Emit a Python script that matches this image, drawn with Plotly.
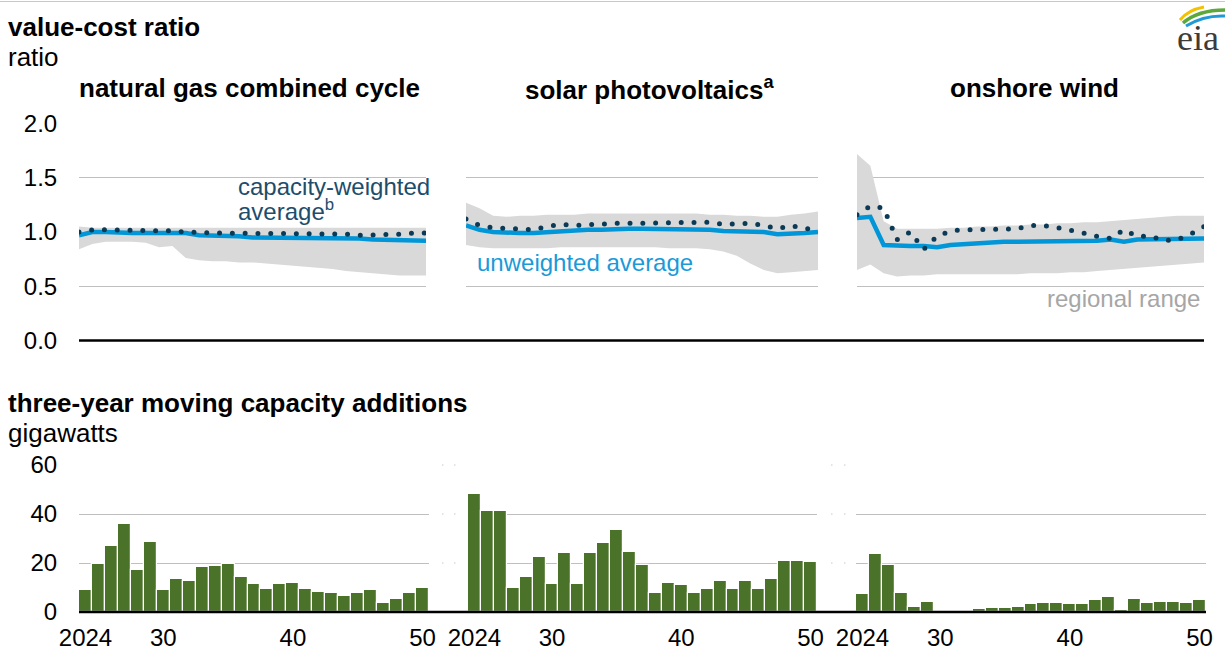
import plotly.graph_objects as go

W, H = 1225, 656

years = list(range(2024, 2051))
tick_vals = [2024, 2030, 2040, 2050]
tick_text = ["2024", "30", "40", "50"]
ratio_ticks = [0.0, 0.5, 1.0, 1.5, 2.0]
gw_ticks = [0, 20, 40, 60]

panel_titles = ["natural gas combined cycle", "solar photovoltaics<sup>a</sup>", "onshore wind"]

# ---- value-cost ratio: capacity-weighted (dotted), unweighted (solid), regional range (band)
ngcc_weighted = [1.00, 1.02, 1.02, 1.02, 1.01, 1.01, 1.01, 1.01, 1.00, 0.99, 0.99, 0.99, 0.99, 0.99,
                 0.99, 0.99, 0.99, 0.99, 0.99, 0.99, 0.98, 0.97, 0.97, 0.97, 0.98, 0.99, 0.99]
ngcc_unweighted = [0.97, 1.00, 1.00, 0.99, 0.99, 0.99, 0.99, 0.98, 0.99, 0.97, 0.97, 0.96, 0.96, 0.95,
                   0.95, 0.95, 0.95, 0.95, 0.95, 0.95, 0.95, 0.94, 0.93, 0.93, 0.93, 0.92, 0.92]
ngcc_low = [0.84, 0.89, 0.91, 0.91, 0.91, 0.90, 0.86, 0.87, 0.76, 0.74, 0.73, 0.73, 0.72, 0.72,
            0.71, 0.70, 0.69, 0.68, 0.67, 0.66, 0.64, 0.63, 0.62, 0.61, 0.60, 0.60, 0.60]
ngcc_high = [1.05, 1.04, 1.04, 1.04, 1.04, 1.04, 1.04, 1.04, 1.04, 1.04, 1.04, 1.04, 1.04, 1.04,
             1.04, 1.04, 1.04, 1.04, 1.04, 1.04, 1.04, 1.04, 1.04, 1.04, 1.04, 1.04, 1.04]

solar_weighted = [1.12, 1.06, 1.04, 1.03, 1.03, 1.02, 1.05, 1.07, 1.06, 1.07, 1.07, 1.08, 1.08, 1.08,
                  1.08, 1.09, 1.08, 1.09, 1.09, 1.07, 1.07, 1.08, 1.06, 1.03, 1.06, 1.03, 1.03]
solar_unweighted = [1.06, 1.02, 1.00, 0.99, 0.99, 0.99, 1.00, 1.01, 1.02, 1.02, 1.02, 1.03, 1.03, 1.03,
                    1.03, 1.03, 1.02, 1.02, 1.02, 1.01, 1.01, 1.00, 1.00, 0.98, 0.98, 0.99, 1.00]
solar_low = [0.88, 0.86, 0.85, 0.85, 0.85, 0.85, 0.85, 0.86, 0.86, 0.86, 0.86, 0.86, 0.86, 0.86,
             0.86, 0.85, 0.85, 0.85, 0.84, 0.82, 0.78, 0.71, 0.65, 0.62, 0.63, 0.64, 0.65]
solar_high = [1.27, 1.22, 1.15, 1.14, 1.15, 1.15, 1.16, 1.16, 1.16, 1.17, 1.17, 1.17, 1.17, 1.17,
              1.17, 1.17, 1.17, 1.17, 1.16, 1.16, 1.15, 1.15, 1.14, 1.14, 1.16, 1.17, 1.19]

wind_weighted = [1.16, 1.24, 1.22, 0.93, 1.00, 0.84, 0.96, 1.01, 1.02, 1.02, 1.02, 1.03, 1.03, 1.06,
                 1.06, 1.04, 1.02, 0.99, 0.96, 0.94, 1.02, 0.96, 0.96, 0.92, 0.93, 0.98, 1.05]
wind_unweighted = [1.13, 1.14, 0.88, 0.87, 0.87, 0.87, 0.86, 0.88, 0.89, 0.90, 0.90, 0.91, 0.91, 0.91,
                   0.91, 0.91, 0.92, 0.92, 0.92, 0.93, 0.91, 0.93, 0.93, 0.94, 0.94, 0.94, 0.94]
wind_low = [0.65, 0.70, 0.62, 0.59, 0.60, 0.60, 0.61, 0.61, 0.61, 0.61, 0.61, 0.61, 0.61, 0.62,
            0.62, 0.62, 0.63, 0.63, 0.64, 0.65, 0.66, 0.67, 0.68, 0.69, 0.70, 0.71, 0.72]
wind_high = [1.72, 1.61, 1.10, 1.03, 1.03, 1.03, 1.03, 1.04, 1.04, 1.05, 1.05, 1.06, 1.06, 1.07,
             1.07, 1.08, 1.08, 1.09, 1.09, 1.10, 1.11, 1.12, 1.13, 1.14, 1.15, 1.15, 1.15]

# ---- three-year moving capacity additions (GW)
ngcc_adds = [8.8, 19.7, 27.1, 36.1, 17.3, 28.7, 8.8, 13.6, 12.5, 18.2, 18.8, 19.7, 14.1, 11.4,
             9.4, 11.4, 12.0, 9.4, 8.3, 7.8, 6.7, 7.8, 8.8, 3.5, 5.2, 7.8, 9.9]
solar_adds = [48.0, 41.2, 41.2, 9.9, 14.1, 22.4, 11.4, 23.9, 11.4, 23.9, 28.2, 33.3, 24.5, 19.3,
              7.8, 12.0, 10.9, 7.8, 9.4, 12.5, 9.4, 12.5, 9.4, 13.6, 20.8, 20.8, 20.3]
wind_adds = [7.2, 23.5, 19.3, 7.8, 2.0, 4.1, 0.0, 0.0, 0.0, 1.1, 1.6, 1.6, 2.2, 3.1,
             3.7, 3.7, 3.1, 3.1, 4.8, 6.3, 1.0, 5.2, 3.7, 4.2, 4.2, 3.7, 4.8]

weighted = [ngcc_weighted, solar_weighted, wind_weighted]
unweighted = [ngcc_unweighted, solar_unweighted, wind_unweighted]
lows = [ngcc_low, solar_low, wind_low]
highs = [ngcc_high, solar_high, wind_high]
adds = [ngcc_adds, solar_adds, wind_adds]

# ---- styling
FONT = "Arial, Liberation Sans, sans-serif"
BAND = "#d9d9d9"
BLUE = "#0096d7"
NAVY = "#0b3a56"
GREEN = "#4a7229"
GRID = "#bfbfbf"


def px(x):
    return x / W


def py(y):
    return 1 - y / H


top_dom = [(79, 426), (466, 818), (857, 1204)]
bot_dom = [(79, 429), (468, 817), (856, 1206)]
top_y = (340.5, 123.5)   # y pixel of 0.0 and 2.0
bot_y = (612, 465)       # y pixel of 0 and 60

fig = go.Figure()

for i in range(3):
    xt = "x" if i == 0 else f"x{i + 1}"
    xb = f"x{i + 4}"
    # regional range band
    fig.add_trace(go.Scatter(
        x=years + years[::-1], y=lows[i] + highs[i][::-1],
        fill="toself", fillcolor=BAND, line=dict(width=0), mode="lines",
        xaxis=xt, yaxis="y", hoverinfo="skip", showlegend=False))
    # unweighted average
    fig.add_trace(go.Scatter(
        x=years, y=unweighted[i], mode="lines",
        line=dict(color=BLUE, width=4.5), xaxis=xt, yaxis="y", showlegend=False))
    # capacity-weighted average (dotted)
    fig.add_trace(go.Scatter(
        x=years, y=weighted[i], mode="lines",
        line=dict(color=NAVY, width=5, dash="4px,8.77px"), xaxis=xt, yaxis="y", showlegend=False))
    # capacity additions bars
    fig.add_trace(go.Bar(
        x=years, y=adds[i], marker=dict(color=GREEN, line=dict(color="#ffffff", width=1.2)),
        xaxis=xb, yaxis="y2", showlegend=False))

layout = dict(
    width=W, height=H, margin=dict(l=0, r=0, t=0, b=0, pad=0, autoexpand=False),
    paper_bgcolor="white", plot_bgcolor="rgba(0,0,0,0)",
    font=dict(family=FONT, color="#000000"),
    bargap=0,
)

for i in range(3):
    xt_name = "xaxis" if i == 0 else f"xaxis{i + 1}"
    layout[xt_name] = dict(
        domain=[px(top_dom[i][0]), px(top_dom[i][1])], range=[2024, 2050],
        anchor="y", showgrid=False, zeroline=False, showline=False, showticklabels=False,
        automargin=False, fixedrange=True)
    layout[f"xaxis{i + 4}"] = dict(
        domain=[px(bot_dom[i][0]), px(bot_dom[i][1])], range=[2023.5, 2050.5],
        anchor="y2", showgrid=False, zeroline=False, showline=False,
        tickmode="array", tickvals=tick_vals, ticktext=tick_text,
        ticks="outside", ticklen=4, tickcolor="rgba(0,0,0,0)", automargin=False,
        tickfont=dict(size=24, family=FONT, color="#000000"), fixedrange=True)

layout["yaxis"] = dict(
    domain=[py(top_y[0]), py(top_y[1])], range=[0, 2.0], anchor="x",
    tickmode="array", tickvals=ratio_ticks, ticktext=[f"{v:.1f}" for v in ratio_ticks],
    showgrid=True, gridcolor=GRID, gridwidth=1, zeroline=False, showline=False,
    ticks="outside", ticklen=16, tickcolor="rgba(0,0,0,0)", automargin=False,
    tickfont=dict(size=24, family=FONT, color="#000000"), fixedrange=True)
layout["yaxis2"] = dict(
    domain=[py(bot_y[0]), py(bot_y[1])], range=[0, 60], anchor="x4",
    tickmode="array", tickvals=gw_ticks, ticktext=[str(v) for v in gw_ticks],
    showgrid=True, gridcolor=GRID, gridwidth=1, zeroline=False, showline=False,
    ticks="outside", ticklen=16, tickcolor="rgba(0,0,0,0)", automargin=False,
    tickfont=dict(size=24, family=FONT, color="#000000"), fixedrange=True)

fig.update_layout(**layout)

shapes = []
# continuous baselines
shapes.append(dict(type="line", xref="paper", yref="paper", x0=px(79), x1=px(1204),
                   y0=py(top_y[0]), y1=py(top_y[0]), line=dict(color="#000000", width=2.5)))
shapes.append(dict(type="line", xref="paper", yref="paper", x0=px(79), x1=px(1206),
                   y0=py(bot_y[0]), y1=py(bot_y[0]), line=dict(color="#000000", width=2.5)))
# thin border at top
shapes.append(dict(type="line", xref="paper", yref="paper", x0=0, x1=1,
                   y0=py(1.5), y1=py(1.5), line=dict(color="#c8c8c8", width=1)))
# faint dots between lower panels at gridline levels
for gx in [442, 454, 831, 844]:
    for gy in [465, 514, 563]:
        shapes.append(dict(type="line", xref="paper", yref="paper", x0=px(gx), x1=px(gx + 1.5),
                           y0=py(gy), y1=py(gy), line=dict(color="#c8c8c8", width=1)))


# eia logo arcs
def arc(p0, c, p1):
    return (f"M {px(p0[0])},{py(p0[1])} Q {px(c[0])},{py(c[1])} {px(p1[0])},{py(p1[1])}")


shapes.append(dict(type="path", xref="paper", yref="paper", path=arc((1180, 20), (1188, 10), (1204, 7)),
                   line=dict(color="#f2c200", width=3)))
shapes.append(dict(type="path", xref="paper", yref="paper", path=arc((1183, 23), (1198, 10), (1225, 10)),
                   line=dict(color="#5ca83a", width=3.5)))
shapes.append(dict(type="path", xref="paper", yref="paper", path=arc((1186, 26), (1204, 15), (1225, 16)),
                   line=dict(color="#1f9ad6", width=3)))
fig.update_layout(shapes=shapes)

ann = []


def text(x, y, s, size, bold=False, color="#000000", xanchor="left", yanchor="middle",
         family=FONT):
    ann.append(dict(x=px(x), y=py(y), xref="paper", yref="paper", text=f"<b>{s}</b>" if bold else s,
                    showarrow=False, xanchor=xanchor, yanchor=yanchor,
                    font=dict(size=size, color=color, family=family)))


text(6, 27, "value-cost ratio", 26, bold=True)
text(6, 57, "ratio", 26)
text(6, 403, "three-year moving capacity additions", 26, bold=True)
text(6, 433, "gigawatts", 26)
text(249, 88, panel_titles[0], 26, bold=True, xanchor="center")
text(649, 88, panel_titles[1], 26, bold=True, xanchor="center")
text(1034, 88, panel_titles[2], 26, bold=True, xanchor="center")
text(236, 187, "capacity-weighted", 24, color="#1d4d6c")
text(236, 210, "average<sup>b</sup>", 24, color="#1d4d6c")
text(475, 262, "unweighted average", 24, color="#1a9ad8")
text(1202, 298, "regional range", 24, color="#a6a6a6", xanchor="right")
text(1198, 38, "eia", 36, color="#3c3c3c", xanchor="center", family="Liberation Serif, DejaVu Serif, serif")
fig.update_layout(annotations=ann)

# remove the default page margin, and round the dots of the capacity-weighted line
post = """
document.body.style.margin = '0';
document.body.style.overflow = 'hidden';
var gd = document.getElementById('{plot_id}');
gd.querySelectorAll('path.js-line').forEach(function(p){
  var d = p.style.strokeDasharray || '';
  if (d.indexOf('8.77') >= 0) { p.style.strokeLinecap = 'round'; p.style.strokeDasharray = '0px, 12.8px'; }
});
"""
fig.write_html("out.html", post_script=post, config={"displayModeBar": False, "staticPlot": False})
